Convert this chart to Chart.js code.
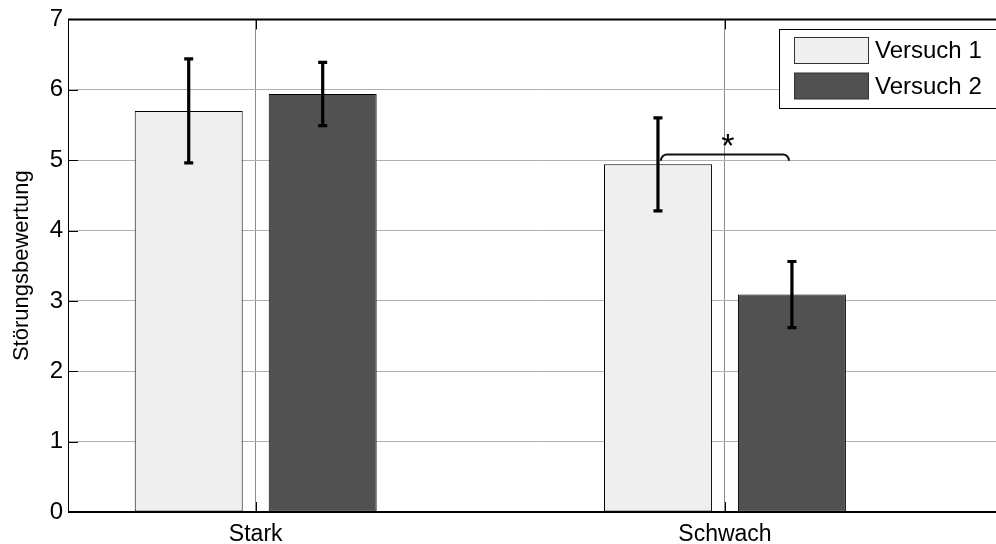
<!DOCTYPE html>
<html>
<head>
<meta charset="utf-8">
<script src="https://cdn.jsdelivr.net/npm/chart.js@4.4.0/dist/chart.umd.min.js"></script>
<style>
  html, body { margin: 0; padding: 0; background: #fff; }
  #wrap { width: 996px; height: 544px; overflow: hidden; position: relative; }
  canvas { display: block; }
</style>
</head>
<body>
<div id="wrap"><canvas id="chart" width="1010" height="544"></canvas></div>
<script>
// data
const categories = ['Stark', 'Schwach'];
const categoryPos = [1, 2];
const versuch1 = [5.70, 4.94];
const versuch2 = [5.94, 3.09];
const fehler1 = [0.74, 0.66];
const fehler2 = [0.45, 0.47];
const yTicks = [0, 1, 2, 3, 4, 5, 6, 7];
// significance bracket between the two Schwach bars
const sigCategory = 1;
const sigTop = 5.08;
const sigEnd = 4.99;
const sigStar = 5.29;

const FONT = 'Arial, "Liberation Sans", Helvetica, sans-serif';

// error bars on top of the bars
const errorBars = {
  id: 'errorBars',
  afterDatasetsDraw(chart) {
    const ctx = chart.ctx;
    const y = chart.scales.y;
    const errs = [fehler1, fehler2];
    ctx.save();
    ctx.strokeStyle = '#000';
    ctx.lineWidth = 3.2;
    chart.data.datasets.forEach((ds, i) => {
      const meta = chart.getDatasetMeta(i);
      meta.data.forEach((bar, j) => {
        const v = ds.data[j].y;
        const yt = y.getPixelForValue(v + errs[i][j]);
        const yb = y.getPixelForValue(v - errs[i][j]);
        ctx.beginPath();
        ctx.moveTo(bar.x, yt); ctx.lineTo(bar.x, yb);
        ctx.moveTo(bar.x - 4.5, yt); ctx.lineTo(bar.x + 4.5, yt);
        ctx.moveTo(bar.x - 4.5, yb); ctx.lineTo(bar.x + 4.5, yb);
        ctx.stroke();
      });
    });
    ctx.restore();
  }
};

// bracket + asterisk
const sigBracket = {
  id: 'sigBracket',
  afterDatasetsDraw(chart) {
    const ctx = chart.ctx;
    const y = chart.scales.y;
    const x1 = chart.getDatasetMeta(0).data[sigCategory].x + 3;
    const x2 = chart.getDatasetMeta(1).data[sigCategory].x - 3;
    const yt = y.getPixelForValue(sigTop);
    const ye = y.getPixelForValue(sigEnd);
    ctx.save();
    ctx.strokeStyle = '#111';
    ctx.lineWidth = 2;
    ctx.beginPath();
    ctx.moveTo(x1, ye);
    ctx.arcTo(x1, yt, x2, yt, 6);
    ctx.arcTo(x2, yt, x2, ye, 6);
    ctx.lineTo(x2, ye);
    ctx.stroke();
    ctx.fillStyle = '#000';
    ctx.font = '34px ' + FONT;
    ctx.textAlign = 'center';
    ctx.textBaseline = 'middle';
    const xs = chart.scales.x.getPixelForValue(categoryPos[sigCategory]) + 3;
    ctx.fillText('*', xs, y.getPixelForValue(sigStar) + 8);
    ctx.restore();
  }
};

// MATLAB style box, inner ticks and legend
const axesBox = {
  id: 'axesBox',
  afterDraw(chart) {
    const ctx = chart.ctx;
    const a = chart.chartArea;
    const xs = chart.scales.x, ys = chart.scales.y;
    ctx.save();
    ctx.strokeStyle = '#000';
    ctx.lineWidth = 1;
    ctx.beginPath();
    ctx.moveTo(a.left + 0.5, a.top); ctx.lineTo(a.left + 0.5, a.bottom);
    ctx.moveTo(a.right - 0.5, a.top); ctx.lineTo(a.right - 0.5, a.bottom);
    yTicks.forEach(t => {
      const py = Math.round(ys.getPixelForValue(t)) + 0.5;
      ctx.moveTo(a.left, py); ctx.lineTo(a.left + 10, py);
      ctx.moveTo(a.right, py); ctx.lineTo(a.right - 10, py);
    });
    categoryPos.forEach(c => {
      const px = Math.round(xs.getPixelForValue(c)) + 0.5;
      ctx.moveTo(px, a.bottom); ctx.lineTo(px, a.bottom - 10);
      ctx.moveTo(px, a.top); ctx.lineTo(px, a.top + 10);
    });
    ctx.stroke();
    ctx.lineWidth = 2;
    ctx.beginPath();
    ctx.moveTo(a.left, a.top); ctx.lineTo(a.right, a.top);
    ctx.moveTo(a.left, a.bottom); ctx.lineTo(a.right, a.bottom);
    ctx.stroke();

    // legend
    const lx = 779.5, ly = 29.5, lw = 226, lh = 79;
    ctx.fillStyle = '#fff';
    ctx.fillRect(lx, ly, lw, lh);
    ctx.lineWidth = 1;
    ctx.strokeStyle = '#000';
    ctx.strokeRect(lx, ly, lw, lh);
    ctx.font = '24px ' + FONT;
    ctx.textAlign = 'left';
    ctx.textBaseline = 'middle';
    chart.data.datasets.forEach((ds, i) => {
      const sy = 37.5 + i * 35.5;
      ctx.fillStyle = ds.backgroundColor;
      ctx.fillRect(794.5, sy, 74, 26);
      ctx.strokeStyle = '#333';
      ctx.strokeRect(794.5, sy, 74, 26);
      ctx.fillStyle = '#000';
      ctx.fillText(ds.label, 875, sy + 14);
    });
    ctx.restore();
  }
};

new Chart(document.getElementById('chart'), {
  type: 'bar',
  data: {
    datasets: [
      {
        label: 'Versuch 1',
        data: categoryPos.map((x, i) => ({ x: x, y: versuch1[i] })),
        backgroundColor: '#efefef',
        borderColor: '#000',
        borderWidth: 1,
        borderSkipped: false
      },
      {
        label: 'Versuch 2',
        data: categoryPos.map((x, i) => ({ x: x, y: versuch2[i] })),
        backgroundColor: '#515151',
        borderColor: '#000',
        borderWidth: 1,
        borderSkipped: false
      }
    ]
  },
  options: {
    responsive: false,
    animation: false,
    categoryPercentage: 0.571,
    barPercentage: 0.806,
    layout: { padding: { top: 16, right: 3.5, left: 0, bottom: 0 } },
    plugins: { legend: { display: false }, tooltip: { enabled: false } },
    scales: {
      x: {
        type: 'linear',
        offset: false,
        min: 0.6,
        max: 2.6,
        afterBuildTicks: s => { s.ticks = categoryPos.map(v => ({ value: v })); },
        afterFit: s => { s.height = 32; },
        ticks: {
          callback: v => categories[categoryPos.indexOf(v)] || '',
          color: '#000',
          font: { family: FONT, size: 23 },
          padding: 9,
          maxRotation: 0,
          autoSkip: false
        },
        grid: { offset: false, color: '#8c8c8c', lineWidth: 1, drawTicks: false },
        border: { display: false }
      },
      y: {
        min: 0,
        max: 7,
        afterBuildTicks: s => { s.ticks = yTicks.map(v => ({ value: v })); },
        afterFit: s => { s.width = 68; },
        ticks: {
          color: '#000',
          font: { family: FONT, size: 24 },
          padding: 5
        },
        grid: { color: '#b0b0b0', lineWidth: 1, drawTicks: false },
        border: { display: false },
        title: {
          display: true,
          text: 'Störungsbewertung',
          color: '#000',
          font: { family: FONT, size: 22 },
          padding: { top: 9, bottom: 0 }
        }
      }
    }
  },
  plugins: [errorBars, sigBracket, axesBox]
});
</script>
</body>
</html>
